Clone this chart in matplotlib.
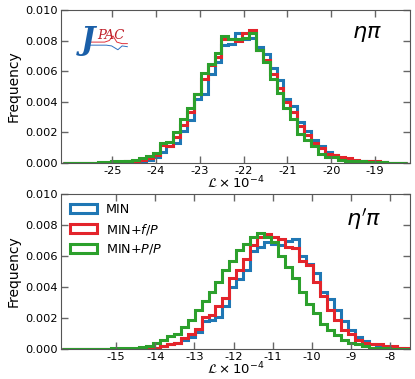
import numpy as np
import matplotlib
matplotlib.use("Agg")
import matplotlib.pyplot as plt
from matplotlib.ticker import FormatStrFormatter
from matplotlib.patches import Patch

plt.rcParams['axes.unicode_minus'] = False

# bin layout for each panel (start, width, count 50)
top_start, top_width = -26.116, 0.157
bot_start, bot_width = -16.378, 0.178

# eta pi panel
top_min = [0.00001, 0.00001, 0.00001, 0.00001, 0.00001, 0.00002, 0.00003, 0.00005, 0.00005, 0.0001,
           0.0001, 0.0001, 0.0002, 0.0004, 0.0007, 0.0011, 0.0013, 0.0021, 0.0028, 0.0042,
           0.0045, 0.0058, 0.0066, 0.0077, 0.0078, 0.0085, 0.0081, 0.0082, 0.0076, 0.0071,
           0.0062, 0.0054, 0.0042, 0.0037, 0.0027, 0.0021, 0.0015, 0.0011, 0.0007, 0.0005,
           0.0003, 0.0002, 0.00015, 0.0001, 0.0001, 0.00005, 0.00005, 0.00003, 0.00002, 0.00001]
top_fp = [0.00001, 0.00001, 0.00001, 0.00001, 0.00001, 0.00002, 0.00003, 0.00005, 0.00008, 0.0001,
          0.0001, 0.0002, 0.0003, 0.0005, 0.0012, 0.0011, 0.0017, 0.0025, 0.0033, 0.0045,
          0.0055, 0.0064, 0.0069, 0.0081, 0.0081, 0.0080, 0.0085, 0.0087, 0.0074, 0.0067,
          0.0058, 0.0049, 0.0040, 0.0033, 0.0024, 0.0018, 0.0013, 0.0010, 0.0006, 0.0005,
          0.0004, 0.0003, 0.0002, 0.00015, 0.0001, 0.0001, 0.00005, 0.00003, 0.00002, 0.00001]
top_pp = [0.00002, 0.00002, 0.00002, 0.00003, 0.00003, 0.00005, 0.00005, 0.0001, 0.0001, 0.00015,
          0.0002, 0.00035, 0.00045, 0.00068, 0.0013, 0.0014, 0.0020, 0.0029, 0.0036, 0.0045,
          0.0059, 0.0065, 0.0072, 0.0083, 0.0081, 0.0081, 0.0082, 0.0085, 0.0074, 0.0066,
          0.0055, 0.0046, 0.0036, 0.0029, 0.0019, 0.0015, 0.0011, 0.0006, 0.0004, 0.0004,
          0.0002, 0.00015, 0.0001, 0.0001, 0.00008, 0.00005, 0.00005, 0.00003, 0.00002, 0.00002]

# eta' pi panel
bot_min = [0.00001, 0.00001, 0.00001, 0.00001, 0.00001, 0.00001, 0.00001, 0.00002, 0.00002, 0.00002,
           0.00003, 0.00005, 0.0001, 0.0001, 0.0002, 0.0003, 0.0004, 0.0006, 0.0008, 0.0011,
           0.0018, 0.0019, 0.0021, 0.0028, 0.0040, 0.0045, 0.0051, 0.0063, 0.0066, 0.0069,
           0.0068, 0.0067, 0.0070, 0.0071, 0.0060, 0.0055, 0.0049, 0.0037, 0.0032, 0.0025,
           0.0018, 0.0012, 0.0008, 0.0005, 0.0003, 0.0002, 0.00015, 0.0001, 0.00005, 0.00003]
bot_fp = [0.00001, 0.00001, 0.00001, 0.00001, 0.00001, 0.00001, 0.00001, 0.00002, 0.00002, 0.00002,
          0.00003, 0.00005, 0.0001, 0.0001, 0.0002, 0.0003, 0.0004, 0.0007, 0.0010, 0.0013,
          0.0021, 0.0022, 0.0028, 0.0033, 0.0046, 0.0051, 0.0058, 0.0067, 0.0072, 0.0074,
          0.0072, 0.0071, 0.0066, 0.0065, 0.0057, 0.0054, 0.0043, 0.0034, 0.0025, 0.0019,
          0.0012, 0.0010, 0.0006, 0.0004, 0.0003, 0.0003, 0.0002, 0.0002, 0.0001, 0.0001]
bot_pp = [0.00002, 0.00002, 0.00002, 0.00002, 0.00002, 0.00003, 0.00003, 0.00005, 0.00005, 0.00008,
          0.0001, 0.00012, 0.0002, 0.0004, 0.0006, 0.00085, 0.0010, 0.0014, 0.0019, 0.0025,
          0.0031, 0.0037, 0.0043, 0.0051, 0.0057, 0.0064, 0.0068, 0.0072, 0.0075, 0.0072,
          0.0069, 0.0060, 0.0053, 0.0046, 0.0037, 0.0029, 0.0023, 0.0016, 0.0012, 0.0009,
          0.0006, 0.0004, 0.0003, 0.0002, 0.0001, 0.00005, 0.00005, 0.00003, 0.00002, 0.00002]

labels = ['MIN', 'MIN+$f/P$', 'MIN+$P/P$']
colors = ['#1f77b4', '#e3242b', '#2ca02c']
top_ticks = [-25, -24, -23, -22, -21, -20, -19]
bot_ticks = [-15, -14, -13, -12, -11, -10, -9, -8]

fig = plt.figure(figsize=(4.15, 3.79), dpi=100)
ax1 = fig.add_axes([0.147, 0.570, 0.841, 0.4037])
ax2 = fig.add_axes([0.147, 0.079, 0.841, 0.409])


def draw(ax, start, width, series, ticks, xlim, name):
    edges = start + width * np.arange(len(series[0]) + 1)
    for vals, c in zip(series, colors):
        ax.stairs(vals, edges, color=c, lw=2.2)
    ax.set_xlim(*xlim)
    ax.set_ylim(0, 0.010)
    ax.set_xticks(ticks)
    ax.set_xticklabels([str(t) for t in ticks])
    ax.set_yticks([0, 0.002, 0.004, 0.006, 0.008, 0.010])
    ax.yaxis.set_major_formatter(FormatStrFormatter('%.3f'))
    ax.tick_params(direction='in', top=True, right=True, length=5, width=1,
                   color='#666666', labelsize=8.2, pad=2.5)
    ax.tick_params(axis='x', pad=2)
    for s in ax.spines.values():
        s.set_color('#555555')
    ax.set_ylabel('Frequency', fontsize=10, labelpad=3)
    ax.set_xlabel(r'$\mathcal{L}\times10^{-4}$', fontsize=9.5, labelpad=-1)
    ax.text(0.92, 0.84, name, transform=ax.transAxes, fontsize=16,
            ha='right', va='center')


draw(ax1, top_start, top_width, [top_min, top_fp, top_pp], top_ticks,
     (-26.17, -18.2), r'$\eta\pi$')
draw(ax2, bot_start, bot_width, [bot_min, bot_fp, bot_pp], bot_ticks,
     (-16.41, -7.49), r"$\eta'\pi$")

# JPAC logo (approximate)
ax1.text(0.077, 0.80, 'J', transform=ax1.transAxes, fontsize=22, color='#1a5fa8',
         family='DejaVu Serif', weight='bold', style='italic', ha='center', va='center')
ax1.text(0.103, 0.835, 'PAC', transform=ax1.transAxes, fontsize=9.5, color='#c0202a',
         family='DejaVu Serif', style='italic', ha='left', va='center')
ax1.plot([0.08, 0.125, 0.138, 0.149, 0.16, 0.175, 0.19], [0.79, 0.79, 0.80, 0.83, 0.79, 0.78, 0.78],
         transform=ax1.transAxes, color='#e0303a', lw=0.7)
ax1.plot([0.08, 0.13, 0.145, 0.163, 0.175, 0.19], [0.77, 0.77, 0.765, 0.74, 0.765, 0.76],
         transform=ax1.transAxes, color='#3070c0', lw=0.7)

handles = [Patch(facecolor='none', edgecolor=c, lw=2.2) for c in colors]
ax2.legend(handles, labels, loc='upper left', frameon=False, fontsize=9.2,
           handlelength=2.1, handleheight=0.7, labelspacing=0.45,
           borderaxespad=0.3, handletextpad=0.7)

fig.savefig('out.png', dpi=100)
